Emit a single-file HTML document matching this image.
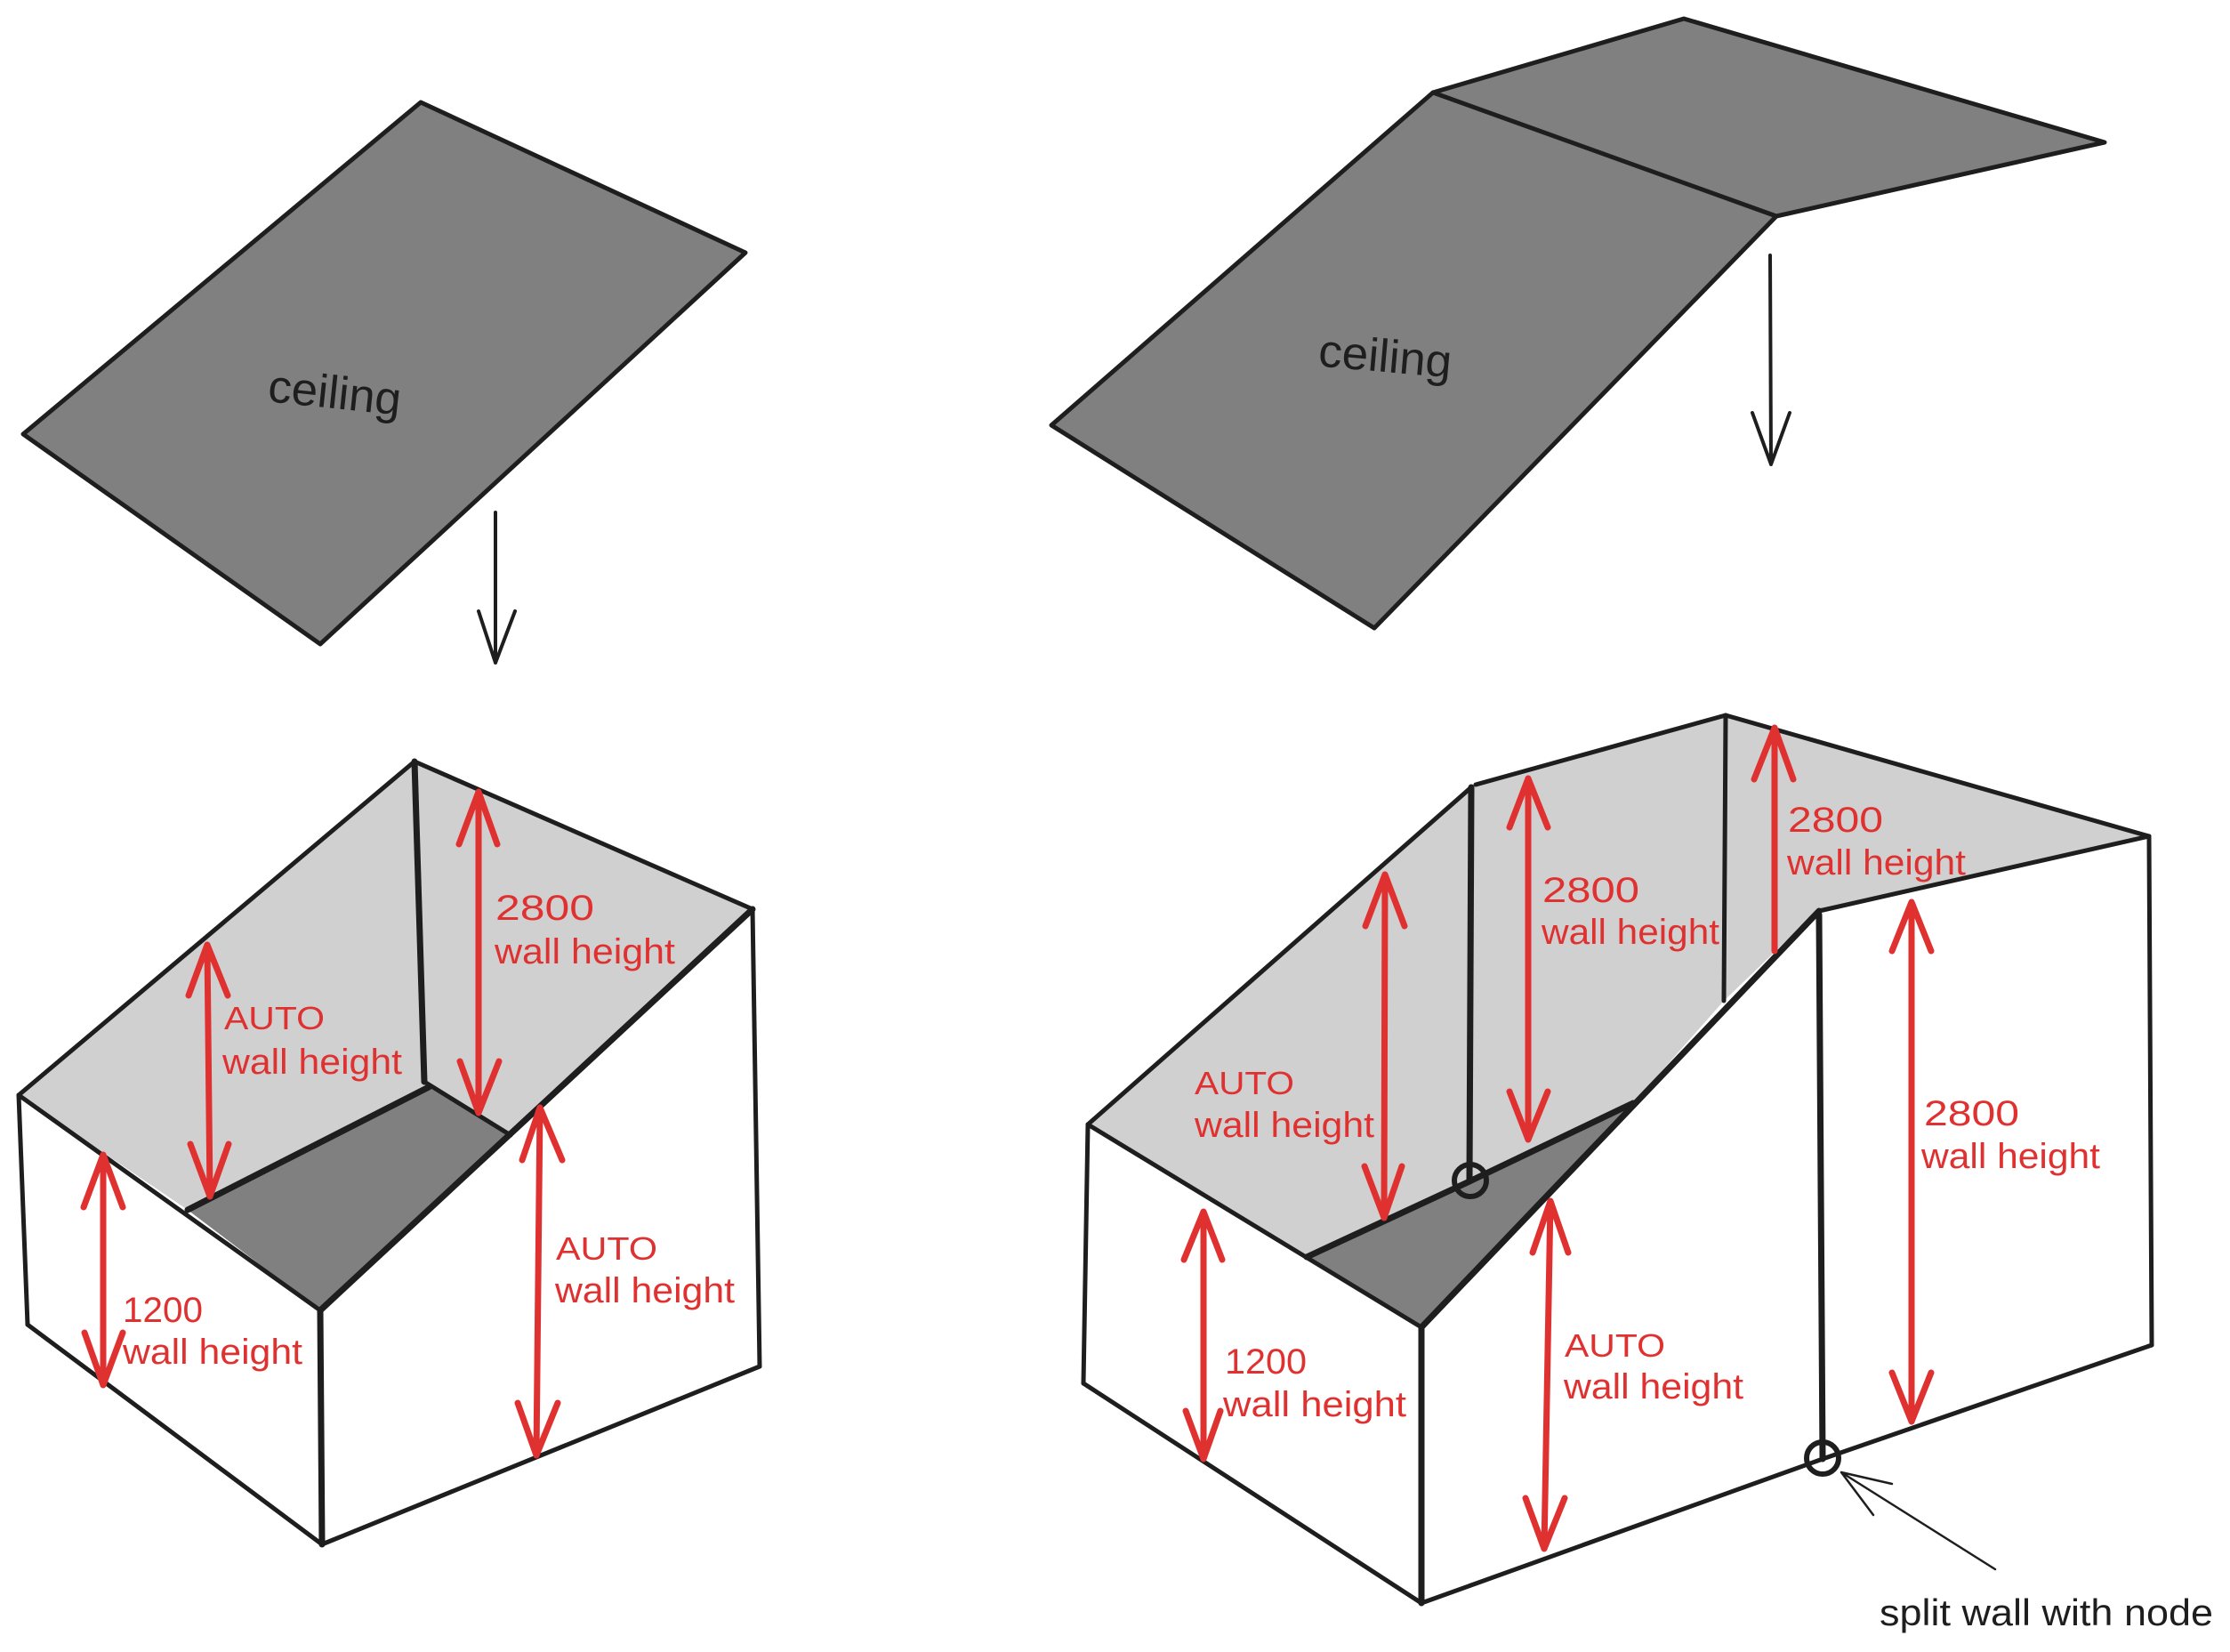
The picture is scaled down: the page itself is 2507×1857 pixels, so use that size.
<!DOCTYPE html>
<html>
<head>
<meta charset="utf-8">
<style>
html,body{margin:0;padding:0;background:#ffffff;}
svg{display:block;}
.k{stroke:#1e1e1e;stroke-linecap:round;stroke-linejoin:round;}
.r{fill:none;stroke:#e03131;stroke-width:7;stroke-linecap:round;stroke-linejoin:round;}
.t{font-family:"Liberation Sans",sans-serif;fill:#e03131;}
.b{font-family:"Liberation Sans",sans-serif;fill:#1e1e1e;}
</style>
</head>
<body>
<svg width="2507" height="1857" viewBox="0 0 2507 1857" xmlns="http://www.w3.org/2000/svg">
<rect x="0" y="0" width="2507" height="1857" fill="#ffffff"/>

<!-- ===== Left ceiling ===== -->
<polygon points="473,115 838,284 360,724 26,488" style="fill:#808080" class="k" stroke-width="5"/>
<text class="b" x="376" y="459" font-size="52" text-anchor="middle" textLength="150" lengthAdjust="spacingAndGlyphs" transform="rotate(6 376 445)">ceiling</text>
<path class="k" style="fill:none" stroke-width="4" d="M557,576 L557,745 M538,687 L557,745 L579,687"/>

<!-- ===== Right ceiling ===== -->
<polygon points="1182,478 1611,104 1893,21 2366,160 1997,243 1545,706" style="fill:#808080" class="k" stroke-width="5"/>
<line class="k" stroke-width="5" x1="1611" y1="104" x2="1997" y2="243"/>
<text class="b" x="1557" y="418" font-size="52" text-anchor="middle" textLength="150" lengthAdjust="spacingAndGlyphs" transform="rotate(5 1557 405)">ceiling</text>
<path class="k" style="fill:none" stroke-width="4" d="M1990,287 L1991,522 M1970,464 L1991,522 L2012,464"/>

<!-- ===== Left box ===== -->
<polygon points="21,1231 466,856 477,1216 482,1222 211,1360" style="fill:#d0d0d0"/>
<polygon points="466,856 846,1022 574,1276 482,1222 477,1216" style="fill:#d0d0d0"/>
<polygon points="211,1360 482,1222 574,1276 360,1473" style="fill:#808080"/>
<polygon points="21,1231 31,1489 362,1736 360,1473" style="fill:#ffffff"/>
<polygon points="360,1473 846,1022 854,1536 362,1736" style="fill:#ffffff"/>
<g class="k" stroke-width="5" style="fill:none">
<line x1="21" y1="1231" x2="466" y2="856"/>
<line x1="466" y1="856" x2="846" y2="1022"/>
<line x1="21" y1="1231" x2="360" y2="1473"/>
<line x1="21" y1="1231" x2="31" y2="1489"/>
<line x1="31" y1="1489" x2="362" y2="1736"/>
<line x1="362" y1="1736" x2="854" y2="1536"/>
<line x1="846" y1="1022" x2="854" y2="1536"/>
<line x1="477" y1="1216" x2="574" y2="1276"/>
</g>
<g class="k" stroke-width="7" style="fill:none">
<line x1="846" y1="1022" x2="360" y2="1473"/>
<line x1="466" y1="856" x2="477" y2="1216"/>
<line x1="211" y1="1360" x2="482" y2="1222"/>
<line x1="360" y1="1473" x2="362" y2="1736"/>
</g>

<path class="r" d="M233,1062 L236,1345 M212,1119 L233,1062 L256,1119 M214,1286 L236,1345 L257,1286"/>
<path class="r" d="M538,890 L538,1251 M516,949 L538,890 L559,949 M517,1193 L538,1251 L561,1193"/>
<path class="r" d="M116,1298 L116,1557 M94,1357 L116,1298 L138,1357 M95,1498 L116,1557 L138,1498"/>
<path class="r" d="M607,1245 L603,1636 M587,1304 L607,1245 L632,1304 M582,1577 L603,1636 L627,1577"/>

<text class="t" x="252" y="1157" font-size="36" textLength="113" lengthAdjust="spacingAndGlyphs">AUTO</text>
<text class="t" x="250" y="1207" font-size="40" textLength="202" lengthAdjust="spacingAndGlyphs">wall height</text>
<text class="t" x="557" y="1034" font-size="40" textLength="111" lengthAdjust="spacingAndGlyphs">2800</text>
<text class="t" x="556" y="1083" font-size="40" textLength="203" lengthAdjust="spacingAndGlyphs">wall height</text>
<text class="t" x="138" y="1486" font-size="40" textLength="90" lengthAdjust="spacingAndGlyphs">1200</text>
<text class="t" x="138" y="1533" font-size="40" textLength="202" lengthAdjust="spacingAndGlyphs">wall height</text>
<text class="t" x="625" y="1416" font-size="36" textLength="114" lengthAdjust="spacingAndGlyphs">AUTO</text>
<text class="t" x="624" y="1464" font-size="40" textLength="202" lengthAdjust="spacingAndGlyphs">wall height</text>

<!-- ===== Right box ===== -->
<polygon points="1223,1264 1654,885 1652,1328 1469,1413" style="fill:#d0d0d0"/>
<polygon points="1657,883 1940,804 1938,1125 1836,1240 1652,1328" style="fill:#d0d0d0"/>
<polygon points="1940,804 2416,940 2043,1024 1938,1125" style="fill:#d0d0d0"/>
<polygon points="1469,1413 1652,1328 1836,1240 1598,1492" style="fill:#808080"/>
<polygon points="1223,1264 1218,1555 1598,1802 1598,1492" style="fill:#ffffff"/>
<polygon points="1598,1492 2045,1024 2049,1640 1598,1802" style="fill:#ffffff"/>
<polygon points="2045,1024 2416,940 2419,1512 2049,1640" style="fill:#ffffff"/>
<g class="k" stroke-width="5" style="fill:none">
<line x1="1223" y1="1264" x2="1654" y2="885"/>
<line x1="1659" y1="882" x2="1940" y2="804"/>
<line x1="1940" y1="804" x2="2416" y2="940"/>
<line x1="2416" y1="940" x2="2045" y2="1024"/>
<line x1="1223" y1="1264" x2="1598" y2="1492"/>
<line x1="1223" y1="1264" x2="1218" y2="1555"/>
<line x1="1218" y1="1555" x2="1598" y2="1802"/>
<line x1="1598" y1="1802" x2="2049" y2="1640"/>
<line x1="2049" y1="1640" x2="2419" y2="1512"/>
<line x1="2416" y1="940" x2="2419" y2="1512"/>
<line x1="1940" y1="804" x2="1938" y2="1125"/>
</g>
<g class="k" stroke-width="7" style="fill:none">
<line x1="1654" y1="885" x2="1652" y2="1328"/>
<line x1="1469" y1="1413" x2="1652" y2="1328"/>
<line x1="1652" y1="1328" x2="1836" y2="1240"/>
<line x1="2045" y1="1024" x2="1598" y2="1492"/>
<line x1="1598" y1="1492" x2="1598" y2="1802"/>
<line x1="2045" y1="1028" x2="2049" y2="1640"/>
</g>
<circle cx="1653" cy="1327" r="18" class="k" style="fill:none" stroke-width="6"/>
<circle cx="2049" cy="1639" r="18" class="k" style="fill:none" stroke-width="6"/>

<path class="r" d="M1557,983 L1556,1369 M1535,1041 L1557,983 L1579,1041 M1534,1311 L1556,1369 L1576,1311"/>
<path class="r" d="M1718,875 L1718,1281 M1697,930 L1718,875 L1740,930 M1697,1227 L1718,1281 L1740,1227"/>
<path class="r" d="M1353,1362 L1353,1640 M1331,1416 L1353,1362 L1374,1416 M1333,1586 L1353,1640 L1372,1586"/>
<path class="r" d="M1743,1350 L1736,1741 M1723,1408 L1743,1350 L1763,1408 M1715,1684 L1736,1741 L1759,1684"/>
<path class="r" d="M1995,818 L1995,1069 M1972,876 L1995,818 L2016,876"/>
<path class="r" d="M2149,1014 L2149,1598 M2127,1069 L2149,1014 L2171,1069 M2127,1543 L2149,1598 L2171,1543"/>

<text class="t" x="1343" y="1230" font-size="36" textLength="112" lengthAdjust="spacingAndGlyphs">AUTO</text>
<text class="t" x="1343" y="1278" font-size="40" textLength="202" lengthAdjust="spacingAndGlyphs">wall height</text>
<text class="t" x="1734" y="1014" font-size="40" textLength="109" lengthAdjust="spacingAndGlyphs">2800</text>
<text class="t" x="1733" y="1061" font-size="40" textLength="200" lengthAdjust="spacingAndGlyphs">wall height</text>
<text class="t" x="1377" y="1544" font-size="40" textLength="92" lengthAdjust="spacingAndGlyphs">1200</text>
<text class="t" x="1375" y="1592" font-size="40" textLength="206" lengthAdjust="spacingAndGlyphs">wall height</text>
<text class="t" x="1759" y="1525" font-size="36" textLength="113" lengthAdjust="spacingAndGlyphs">AUTO</text>
<text class="t" x="1758" y="1572" font-size="40" textLength="202" lengthAdjust="spacingAndGlyphs">wall height</text>
<text class="t" x="2010" y="935" font-size="40" textLength="107" lengthAdjust="spacingAndGlyphs">2800</text>
<text class="t" x="2009" y="983" font-size="40" textLength="201" lengthAdjust="spacingAndGlyphs">wall height</text>
<text class="t" x="2163" y="1265" font-size="40" textLength="107" lengthAdjust="spacingAndGlyphs">2800</text>
<text class="t" x="2160" y="1313" font-size="40" textLength="201" lengthAdjust="spacingAndGlyphs">wall height</text>

<path class="k" style="fill:none" stroke-width="2.5" d="M2070,1655 L2243,1764 M2127,1668 L2070,1655 L2106,1703"/>
<text class="b" x="2113" y="1827" font-size="42" textLength="375" lengthAdjust="spacingAndGlyphs">split wall with node</text>
</svg>
</body>
</html>
